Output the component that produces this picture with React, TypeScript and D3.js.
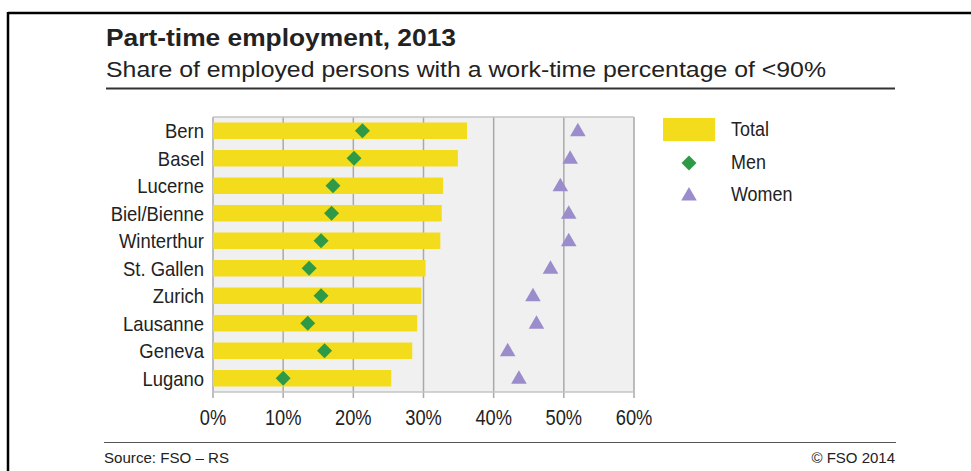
import React from "react";
import * as d3 from "d3";

const cities = ["Bern", "Basel", "Lucerne", "Biel/Bienne", "Winterthur", "St. Gallen", "Zurich", "Lausanne", "Geneva", "Lugano"];
const totalValues = [36.2, 34.9, 32.8, 32.6, 32.4, 30.3, 29.7, 29.1, 28.4, 25.4];
const menValues = [21.3, 20.1, 17.1, 16.9, 15.4, 13.7, 15.4, 13.5, 15.9, 10.0];
const womenValues = [52.0, 50.9, 49.5, 50.7, 50.7, 48.1, 45.6, 46.1, 42.0, 43.6];
const xTicks = [0, 10, 20, 30, 40, 50, 60];
const legendLabels = ["Total", "Men", "Women"];

const W = 971;
const H = 471;
const FONT = "'Liberation Sans', Arial, sans-serif";
const TEXT = "#222";
const YELLOW = "#f3dc1c";
const GREEN = "#2e9a47";
const PURPLE = "#9b8dcb";

function CText(props: { x: number; y: number; sx: number; size: number; anchor?: string; dy?: string; children: React.ReactNode }) {
  return (
    <g transform={`translate(${props.x},${props.y}) scale(${props.sx},1)`}>
      <text x={0} y={0} dy={props.dy} fontSize={props.size} textAnchor={props.anchor || "start"} fill={TEXT}>
        {props.children}
      </text>
    </g>
  );
}

export default function App() {
  const x = d3.scaleLinear().domain([0, 60]).range([213, 634]);
  const y = d3.scaleBand().domain(cities).range([117, 392]).paddingInner(0.4).paddingOuter(0.2);
  const diamond = d3.symbol().type(d3.symbolSquare).size(112)();
  const tri = d3.symbol().type(d3.symbolTriangle).size(105)();
  const top = 117, bottom = 392;

  return (
    <svg width={W} height={H} style={{ position: "absolute", left: 0, top: 0 }} fontFamily={FONT}>
      <rect x={0} y={0} width={W} height={H} fill="#fff" />
      {/* outer frame */}
      <line x1={8} y1={13} x2={W} y2={13} stroke="#000" strokeWidth={2.5} />
      <line x1={8} y1={12} x2={8} y2={H} stroke="#000" strokeWidth={2.5} />

      {/* title */}
      <text x={106} y={46} fontSize={24} fontWeight="bold" fill={TEXT} textLength={350} lengthAdjust="spacingAndGlyphs">
        Part-time employment, 2013
      </text>
      <text x={106} y={77} fontSize={21.5} fill={TEXT} textLength={720} lengthAdjust="spacingAndGlyphs">
        Share of employed persons with a work-time percentage of &lt;90%
      </text>
      <line x1={106} y1={88.5} x2={895} y2={88.5} stroke="#333" strokeWidth={2} />

      {/* plot background */}
      <rect x={x(0)} y={top} width={x(60) - x(0)} height={bottom - top} fill="#f0f0f0" />
      {xTicks.map((t) => (
        <line key={"g" + t} x1={x(t)} x2={x(t)} y1={top} y2={bottom + 6} stroke="#a9a9a9" strokeWidth={1.5} />
      ))}
      <line x1={x(0)} x2={x(60)} y1={top} y2={top} stroke="#c4c4c4" strokeWidth={1.5} />
      <line x1={x(0)} x2={x(60)} y1={bottom} y2={bottom} stroke="#c4c4c4" strokeWidth={1.5} />

      {/* bars */}
      {cities.map((c, i) => (
        <rect key={"b" + c} x={x(0)} y={y(c)} width={x(totalValues[i]) - x(0)} height={y.bandwidth()} fill={YELLOW} />
      ))}
      {/* men diamonds */}
      {cities.map((c, i) => (
        <path key={"m" + c} d={diamond!} transform={`translate(${x(menValues[i])},${y(c)! + y.bandwidth() / 2}) rotate(45)`} fill={GREEN} />
      ))}
      {/* women triangles */}
      {cities.map((c, i) => (
        <path key={"w" + c} d={tri!} transform={`translate(${x(womenValues[i])},${y(c)! + y.bandwidth() / 2 + 1})`} fill={PURPLE} />
      ))}

      {/* category labels */}
      {cities.map((c) => (
        <CText key={"l" + c} x={204} y={y(c)! + y.bandwidth() / 2} dy="0.36em" anchor="end" size={20.5} sx={0.9}>
          {c}
        </CText>
      ))}

      {/* x tick labels */}
      {xTicks.map((t) => (
        <CText key={"t" + t} x={x(t)} y={425} anchor="middle" size={21.5} sx={0.85}>
          {t + "%"}
        </CText>
      ))}

      {/* legend */}
      <rect x={663} y={118} width={52} height={23} fill={YELLOW} />
      <path d={diamond!} transform="translate(689,163) rotate(45)" fill={GREEN} />
      <path d={tri!} transform="translate(689,196)" fill={PURPLE} />
      {legendLabels.map((l, i) => (
        <CText key={l} x={731} y={136 + i * 32.6} size={19.5} sx={0.92}>
          {l}
        </CText>
      ))}

      {/* footer */}
      <line x1={104} y1={442.5} x2={896} y2={442.5} stroke="#555" strokeWidth={1.2} />
      <text x={104} y={463} fontSize={15} fill={TEXT} textLength={125} lengthAdjust="spacingAndGlyphs">
        Source: FSO – RS
      </text>
      <text x={895} y={463} fontSize={15} fill={TEXT} textAnchor="end">
        © FSO 2014
      </text>
    </svg>
  );
}
